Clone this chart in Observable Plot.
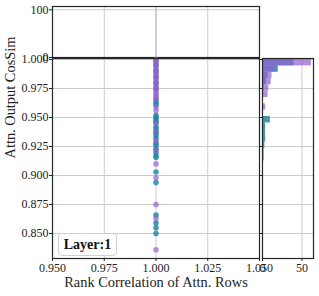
<!DOCTYPE html>
<html><head><meta charset="utf-8">
<script src="https://cdn.jsdelivr.net/npm/d3@7"></script>
<script src="https://cdn.jsdelivr.net/npm/@observablehq/plot@0.6"></script>
<style>
body{margin:0;background:#fff;}
#chart{position:relative;width:319px;height:296px;overflow:hidden;font-family:"Liberation Serif",serif;}
#chart svg{position:absolute;left:0;top:0;}
#legend{position:absolute;left:58px;top:233px;width:57px;height:21px;border:1px solid #d0d0d0;border-radius:4px;background:rgba(255,255,255,0.85);font:bold 14px "Liberation Serif",serif;display:flex;align-items:center;justify-content:center;color:#111;}
</style></head>
<body><div id="chart"></div>
<script>
// ---- data ----
const rankCorr = 1.0; // every row has rank correlation 1.000
const purpleCos = [1.000,0.998,0.996,0.994,0.992,0.990,0.988,0.986,0.984,0.982,0.980,0.978,0.976,0.974,0.972,0.970,0.968,0.9665,0.959,0.956,0.945,0.938,0.930,0.922,0.910,0.898,0.875,0.863,0.836];
const tealCos = [0.999,0.995,0.990,0.985,0.980,0.975,0.9655,0.963,0.961,0.952,0.950,0.948,0.946,0.942,0.940,0.937,0.935,0.932,0.928,0.926,0.923,0.920,0.917,0.9155,0.903,0.894,0.866,0.859,0.855,0.850];
// histogram counts per bin, from the top bin (ending at 1.000) downward
const binMax = 1.0, binMin = 0.836, binCount = 30;
const purpleCounts = [62,17,12,11,8,7,1,4,1,1,1,1,1,1,0,0,1,0,1,0,0,0,1,0,1,0,0,0,0,1];
const tealCounts   = [40,20,7,5,2,1,1,1,1,10,4,4,4,3,2,2,0,1,0,1,0,0,0,0,1,1,1,1,0,0];
const xTicks = [0.95,0.975,1.0,1.025,1.05];
const yTicks = [0.85,0.875,0.9,0.925,0.95,0.975,1.0];
const histTicks = [0,50];
const topTicks = [0,100];
const xLabel = "Rank Correlation of Attn. Rows";
const yLabel = "Attn. Output CosSim";
const legendLabel = "Layer:1";

// ---- styling ----
const W = 319, H = 296;
const purple = "#9460d0", teal = "#1a86a6";
const gridColor = "#cccccc", spine = "#262626";
const yDomain = [0.82845, 1.00086];
const xDomain = [0.95, 1.05];
const baseStyle = {background:"transparent", fontFamily:"Liberation Serif, serif", fontSize:"12px", color:"#222", overflow:"visible"};
const f3 = d3.format(".3f");

const purpleData = purpleCos.map(v => ({rank: rankCorr, cos: v}));
const tealData = tealCos.map(v => ({rank: rankCorr, cos: v}));
const bw = (binMax - binMin) / binCount;
const histRows = purpleCounts.map((p, i) => ({hi: binMax - i*bw, lo: binMax - (i+1)*bw, purple: p, teal: tealCounts[i]}));
const total = d3.sum(purpleCounts) + d3.sum(tealCounts);

const grid = {stroke: gridColor, strokeOpacity: 1, strokeWidth: 1};

const mainPlot = Plot.plot({
  width: W, height: H, marginLeft: 52, marginRight: 60, marginTop: 58, marginBottom: 38,
  style: baseStyle,
  x: {domain: xDomain},
  y: {domain: yDomain},
  marks: [
    Plot.gridX(xTicks, grid),
    Plot.gridY(yTicks, grid),
    Plot.dot(tealData, {x: "rank", y: "cos", r: 2.8, fill: teal, fillOpacity: 0.8}),
    Plot.dot(purpleData, {x: "rank", y: "cos", r: 2.8, fill: purple, fillOpacity: 0.68}),
    Plot.axisX(xTicks, {tickFormat: f3, tickSize: 3, tickPadding: 2, label: null, fontSize: 12}),
    Plot.axisY(yTicks, {tickFormat: f3, tickSize: 3, tickPadding: 1, label: null, fontSize: 12}),
    Plot.frame({stroke: spine, strokeWidth: 1.2}),
    Plot.text([xLabel], {frameAnchor: "bottom", dy: 28, fontSize: 14.4, fill: "#222"}),
    Plot.text([yLabel], {frameAnchor: "left", rotate: -90, dx: -42, fontSize: 14.4, fill: "#222"})
  ]
});

const topPlot = Plot.plot({
  width: W, height: H, marginLeft: 52, marginRight: 60, marginTop: 6, marginBottom: 239,
  style: baseStyle,
  x: {domain: xDomain},
  y: {domain: [0, 106.9]},
  marks: [
    Plot.gridX(xTicks, grid),
    Plot.gridY(topTicks, grid),
    Plot.ruleX([rankCorr], {y1: 0, y2: total, stroke: "#c4bcd8", strokeWidth: 1.2, clip: true}),
    Plot.axisY(topTicks, {tickSize: 3, tickPadding: 1, label: null, fontSize: 12}),
    Plot.axisX(xTicks, {tickSize: 2, tickFormat: () => "", label: null}),
    Plot.frame({stroke: spine, strokeWidth: 1.2})
  ]
});

const rightPlot = Plot.plot({
  width: W, height: H, marginLeft: 262, marginRight: 6, marginTop: 58, marginBottom: 38,
  style: baseStyle,
  x: {domain: [0, 64.7]},
  y: {domain: yDomain},
  marks: [
    Plot.gridX(histTicks, grid),
    Plot.gridY(yTicks, grid),
    Plot.rect(histRows, {x1: 0, x2: "teal", y1: "lo", y2: "hi", fill: teal, fillOpacity: 0.85}),
    Plot.rect(histRows, {x1: 0, x2: "purple", y1: "lo", y2: "hi", fill: purple, fillOpacity: 0.72}),
    Plot.axisX(histTicks, {tickSize: 3, tickPadding: 2, label: null, fontSize: 12}),
    Plot.axisY(yTicks, {tickSize: 3, tickFormat: () => "", label: null}),
    Plot.frame({stroke: spine, strokeWidth: 1.2})
  ]
});

const chart = document.getElementById("chart");
chart.append(topPlot, mainPlot, rightPlot);
const legend = document.createElement("div");
legend.id = "legend";
legend.textContent = legendLabel;
chart.append(legend);
</script></body></html>
